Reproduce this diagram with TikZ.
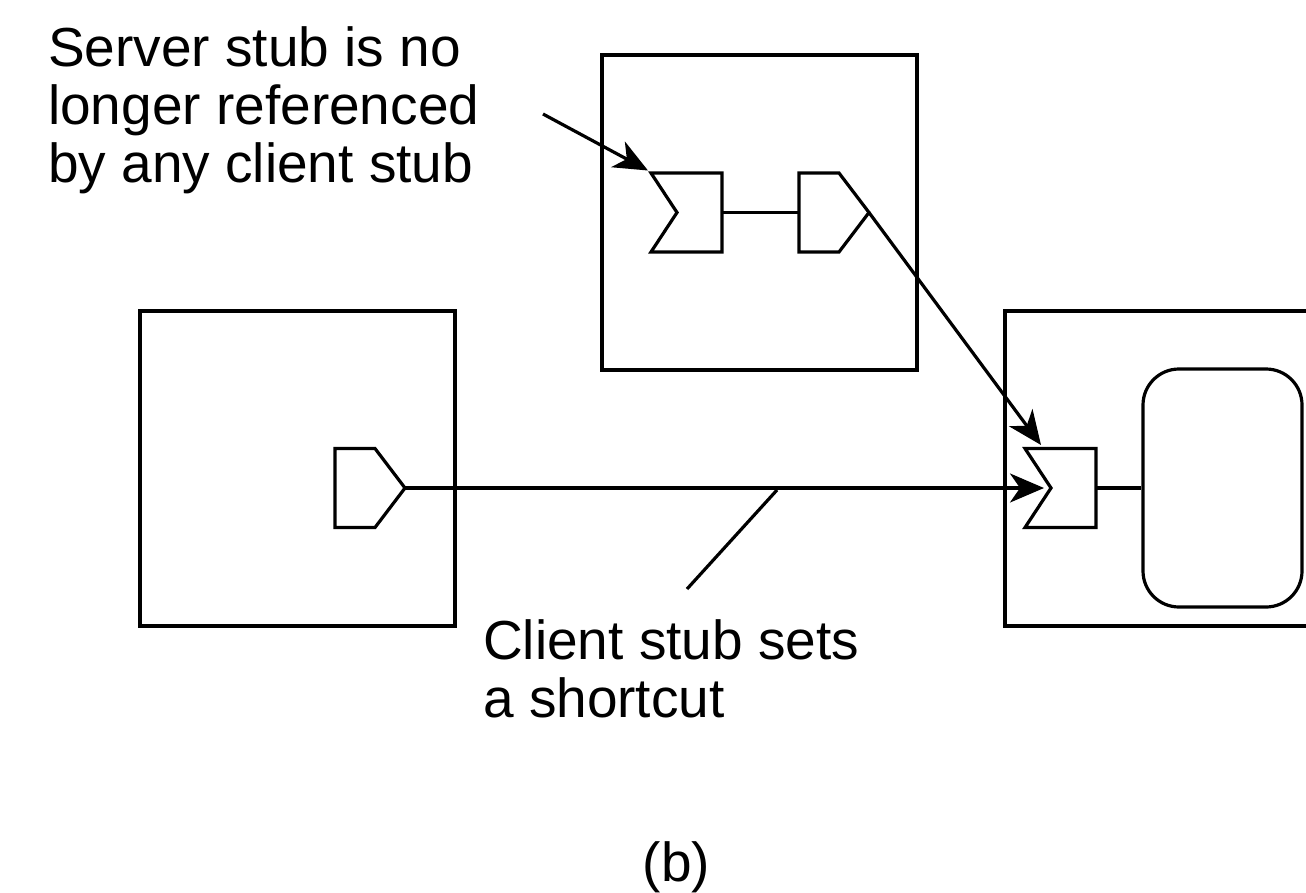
\documentclass[tikz,border=0pt]{standalone}
\usepackage{fontspec}
\setmainfont{Liberation Sans}
\usetikzlibrary{arrows.meta}
\tikzset{
  box/.style={draw, line width=3.2pt, minimum width=315pt, minimum height=315pt, inner sep=0pt},
  stubline/.style={draw, line width=3.2pt, line join=miter},
  conn/.style={line width=3.2pt},
  arr/.style={line width=3.2pt, -{Stealth[length=34pt,width=29pt,inset=10pt]}},
  lbl/.style={font=\fontsize{55}{58}\selectfont, align=left, inner sep=0pt, anchor=base west},
}
\newcommand\clientstub[3]{% name, left x, center y
  \draw[stubline] (#2,#3-39.5) -- (#2,#3+39.5) -- (#2+40,#3+39.5) -- (#2+70,#3) -- (#2+40,#3-39.5) -- cycle;
  \coordinate (#1-tip) at (#2+70,#3);
  \coordinate (#1-left) at (#2,#3);
}
\newcommand\serverstub[3]{% name, left x, center y
  \draw[stubline] (#2,#3-39.5) -- (#2+26,#3) -- (#2,#3+39.5) -- (#2+71,#3+39.5) -- (#2+71,#3-39.5) -- cycle;
  \coordinate (#1-notch) at (#2+26,#3);
  \coordinate (#1-right) at (#2+71,#3);
  \coordinate (#1-corner) at (#2,#3-39.5);
}
\begin{document}
\begin{tikzpicture}[x=1pt,y=-1pt]
\useasboundingbox (0,0) rectangle (1306,892);
\begin{scope}
\clip (0,0) rectangle (1306,892);
% hosts
\node[box] (hostL) at (297.5,468.5) {};
\node[box] (hostT) at (759.5,212.5) {};
\node[box, minimum width=330pt] (hostR) at (1170,468.5) {};
% object
\node[draw, line width=3.2pt, rounded corners=36pt, minimum width=159pt, minimum height=238pt, inner sep=0pt] (obj) at (1222.5,488) {};
% stubs
\clientstub{cL}{335}{488}
\serverstub{sT}{651}{212.5}
\clientstub{cT}{799}{212.5}
\serverstub{sR}{1025}{488}
\coordinate (sR-in) at (1041,445);
% connectors
\draw[conn] (sT-right) -- (cT-left);
\draw[conn] (sR-right) -- (obj.west);
\draw[arr] (cT-tip) -- (sR-in);
\draw[arr, shorten >=7pt] (cL-tip) -- (sR-notch);
% annotations
\coordinate (a1) at (543,114);
\coordinate (a1e) at (648,170.5);
\draw[arr] (a1) -- (a1e);
\coordinate (p1) at (687,589);
\coordinate (p1e) at (777,490);
\draw[conn] (p1) -- (p1e);
\end{scope}
\node[lbl] (t1) at (48,182) {Server stub is no\\longer referenced\\by any client stub};
\node[lbl] (t2) at (483,717) {Client stub sets\\a shortcut};
\node[font=\fontsize{55}{58}\selectfont, inner sep=0pt, anchor=base] (cap) at (676.5,881) {(b)};
\end{tikzpicture}
\end{document}
